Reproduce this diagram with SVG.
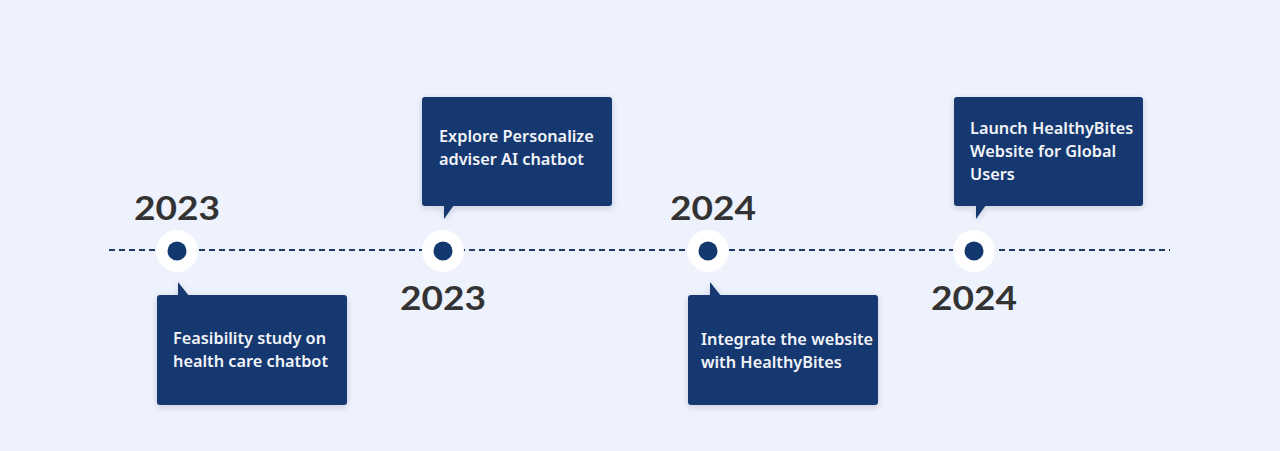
<svg xmlns="http://www.w3.org/2000/svg" width="1280" height="451" viewBox="0 0 1280 451">
<defs>
<filter id="sh" x="-10%" y="-10%" width="120%" height="130%">
<feDropShadow dx="0" dy="2" stdDeviation="3" flood-color="#1a2f5a" flood-opacity="0.18"/>
</filter>
</defs>
<style>
.bg{fill:#eef2fc}
.box{fill:#12386f}
.txt{font-family:"Noto Sans","Open Sans","DejaVu Sans",sans-serif;font-size:16.3px;font-weight:600;fill:#f2f4f8}
.year{font-family:Lato,"Noto Sans",sans-serif;font-size:32px;font-weight:700;fill:#333333}
.ring{fill:#ffffff}
.dot{fill:#12386f}
.line{stroke:#1f3a66;stroke-width:2;stroke-dasharray:6 4;fill:none}
</style>
<rect class="bg" x="0" y="0" width="1280" height="451"/>
<g id="connectors">
<line class="line" x1="109" y1="250" x2="1170" y2="250"/>
</g>
<g id="m1">
<circle class="ring" cx="177" cy="251" r="21"/>
<circle class="dot" cx="177" cy="251" r="9.5"/>
<text class="year" x="134" y="220" textLength="86" lengthAdjust="spacingAndGlyphs">2023</text>
<g filter="url(#sh)">
<rect class="box" x="157" y="295" width="190" height="110" rx="3"/>
<polygon class="box" points="178,282 178,296 189,296"/>
</g>
<text class="txt" x="173" y="344">Feasibility study on</text>
<text class="txt" x="173" y="367">health care chatbot</text>
</g>
<g id="m2">
<circle class="ring" cx="443" cy="251" r="21"/>
<circle class="dot" cx="443" cy="251" r="9.5"/>
<text class="year" x="400" y="310" textLength="86" lengthAdjust="spacingAndGlyphs">2023</text>
<g filter="url(#sh)">
<rect class="box" x="422" y="97" width="190" height="109" rx="3"/>
<polygon class="box" points="444,205 454,205 444,219"/>
</g>
<text class="txt" x="439" y="142">Explore Personalize</text>
<text class="txt" x="439" y="165">adviser AI chatbot</text>
</g>
<g id="m3">
<circle class="ring" cx="708" cy="251" r="21"/>
<circle class="dot" cx="708" cy="251" r="9.5"/>
<text class="year" x="670" y="220" textLength="86" lengthAdjust="spacingAndGlyphs">2024</text>
<g filter="url(#sh)">
<rect class="box" x="688" y="295" width="190" height="110" rx="3"/>
<polygon class="box" points="710,282 710,296 721,296"/>
</g>
<text class="txt" x="701" y="345">Integrate the website</text>
<text class="txt" x="701" y="368">with HealthyBites</text>
</g>
<g id="m4">
<circle class="ring" cx="974" cy="251" r="21"/>
<circle class="dot" cx="974" cy="251" r="9.5"/>
<text class="year" x="931" y="310" textLength="86" lengthAdjust="spacingAndGlyphs">2024</text>
<g filter="url(#sh)">
<rect class="box" x="954" y="97" width="189" height="109" rx="3"/>
<polygon class="box" points="976,205 986,205 976,219"/>
</g>
<text class="txt" x="970" y="134">Launch HealthyBites</text>
<text class="txt" x="970" y="157">Website for Global</text>
<text class="txt" x="970" y="180">Users</text>
</g>
</svg>
